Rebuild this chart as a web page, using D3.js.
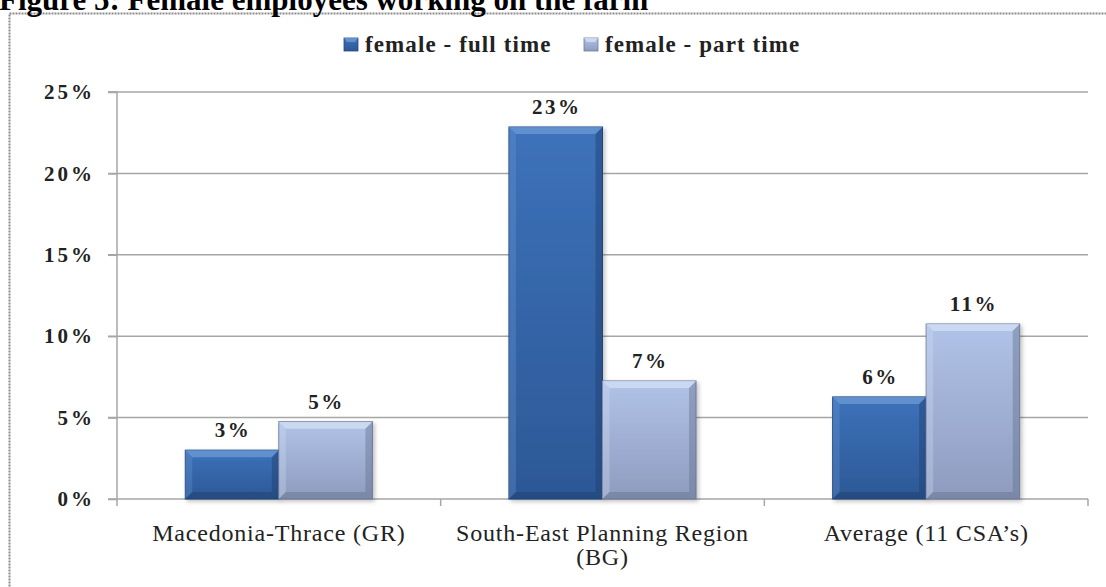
<!DOCTYPE html>
<html><head><meta charset="utf-8">
<script src="https://cdn.jsdelivr.net/npm/d3@7"></script>
<style>html,body{margin:0;padding:0;background:#fff;overflow:hidden}</style>
</head><body><svg id="c" width="1106" height="587"></svg>
<script>
// ---- data ----
const title = "Figure 5: Female employees working on the farm";
const categories = ["Macedonia-Thrace (GR)", "South-East Planning Region (BG)", "Average (11 CSA’s)"];
const categoryLines = [["Macedonia-Thrace (GR)"], ["South-East Planning Region", "(BG)"], ["Average (11 CSA’s)"]];
const seriesNames = ["female - full time", "female - part time"];
const fullTime = [3.0, 22.85, 6.27];
const partTime = [4.75, 7.25, 10.75];
const yTicks = [0, 5, 10, 15, 20, 25];

// ---- layout ----
const svg = d3.select("#c");
const FONT = "Liberation Serif, Times New Roman, serif";
const M = {left: 117, right: 1088, top: 92, bottom: 499};
const x = d3.scaleBand().domain(categories).range([M.left, M.right]).padding(0);
const xs = d3.scaleBand().domain(seriesNames).range([0, x.bandwidth()]).paddingInner(0).paddingOuter(0.73);
const y = d3.scaleLinear().domain([0, 25]).range([M.bottom, M.top]);

const defs = svg.append("defs");
const grads = [
  {id: "gFull", top: "#3d72ba", bot: "#2c5896", edge: "#24497e", light: "#6e9bd6", dark: "#1f3f6e"},
  {id: "gPart", top: "#b1c3e8", bot: "#8e9bbf", edge: "#6f7b9c", light: "#d3e0f6", dark: "#67738f"}
];
grads.forEach(g => {
  const lg = defs.append("linearGradient").attr("id", g.id).attr("x1", 0).attr("y1", 0).attr("x2", 0).attr("y2", 1);
  lg.append("stop").attr("offset", "0%").attr("stop-color", g.top);
  lg.append("stop").attr("offset", "100%").attr("stop-color", g.bot);
});
const f = defs.append("filter").attr("id", "sh").attr("x", "-10%").attr("y", "-10%").attr("width", "130%").attr("height", "130%");
f.append("feDropShadow").attr("dx", 2).attr("dy", 2).attr("stdDeviation", 2).attr("flood-color", "#000").attr("flood-opacity", 0.25);

// frame
svg.append("rect").attr("x", 9.5).attr("y", 13.5).attr("width", 1120).attr("height", 620)
  .attr("fill", "#fff").attr("stroke", "#8c8c8c").attr("stroke-width", 2).attr("stroke-dasharray", "2 1");

// title (cut off at the top edge, as in the reference)
svg.append("text").attr("x", -1).attr("y", 10).text(title)
  .attr("font-family", FONT).attr("font-weight", "bold")
  .attr("font-size", 31).attr("fill", "#000");

// gridlines
svg.append("g").selectAll("line").data(yTicks.filter(d => d > 0)).join("line")
  .attr("x1", M.left - 9).attr("x2", M.right).attr("y1", d => y(d)).attr("y2", d => y(d))
  .attr("stroke", "#a6a6a6").attr("stroke-width", 1.5);

// y axis
const yAxis = svg.append("g").attr("transform", `translate(${M.left},0)`)
  .call(d3.axisLeft(y).tickValues(yTicks).tickSize(9).tickPadding(13).tickFormat(d => d + "%"));
yAxis.select(".domain").attr("stroke", "#a6a6a6").attr("stroke-width", 1.5).attr("d", `M-9,${M.top}H0V${M.bottom}`);
yAxis.selectAll(".tick line").attr("stroke", "#a6a6a6").attr("stroke-width", 1.5);
yAxis.selectAll(".tick text").attr("font-family", FONT)
  .attr("font-weight", "bold").attr("font-size", 21).attr("letter-spacing", 3).attr("fill", "#222");

// x axis
const xAxis = svg.append("g").attr("transform", `translate(0,${M.bottom})`);
xAxis.append("line").attr("x1", M.left - 9).attr("x2", M.right).attr("y1", 0).attr("y2", 0)
  .attr("stroke", "#a6a6a6").attr("stroke-width", 1.5);
const bounds = categories.map(c => x(c)).concat([x(categories[categories.length - 1]) + x.bandwidth()]);
xAxis.selectAll("line.tk").data(bounds).join("line").attr("class", "tk")
  .attr("x1", d => d).attr("x2", d => d).attr("y1", 0).attr("y2", 7)
  .attr("stroke", "#a6a6a6").attr("stroke-width", 1.5);
categories.forEach((c, i) => {
  const t = xAxis.append("text").attr("x", x(c) + x.bandwidth() / 2).attr("y", 42)
    .attr("text-anchor", "middle").attr("font-family", FONT)
    .attr("font-size", 24).attr("letter-spacing", 0.8).attr("fill", "#222");
  categoryLines[i].forEach((ln, j) => {
    t.append("tspan").attr("x", x(c) + x.bandwidth() / 2).attr("dy", j === 0 ? 0 : 24).text(ln);
  });
});

// bars
const series = [
  {name: seriesNames[0], vals: fullTime, g: grads[0]},
  {name: seriesNames[1], vals: partTime, g: grads[1]}
];
const b = 7;
series.forEach(s => {
  const gg = svg.append("g");
  s.vals.forEach((v, i) => {
    const bx = x(categories[i]) + xs(s.name), bw = xs.bandwidth();
    const by = y(v), bh = y(0) - y(v);
    const bar = gg.append("g");
    bar.append("rect").attr("x", bx).attr("y", by).attr("width", bw).attr("height", bh)
      .attr("fill", `url(#${s.g.id})`).attr("stroke", s.g.edge).attr("stroke-width", 1).attr("filter", "url(#sh)");
    const bb = Math.min(b, bh / 2);
    bar.append("polygon").attr("points", [[bx, by], [bx + bw, by], [bx + bw - bb, by + bb], [bx + bb, by + bb]].join(" "))
      .attr("fill", s.g.light).attr("opacity", 0.75);
    bar.append("polygon").attr("points", [[bx, by], [bx + bb, by + bb], [bx + bb, by + bh - bb], [bx, by + bh]].join(" "))
      .attr("fill", s.g.light).attr("opacity", 0.3);
    bar.append("polygon").attr("points", [[bx + bw, by], [bx + bw - bb, by + bb], [bx + bw - bb, by + bh - bb], [bx + bw, by + bh]].join(" "))
      .attr("fill", s.g.dark).attr("opacity", 0.45);
    bar.append("polygon").attr("points", [[bx, by + bh], [bx + bb, by + bh - bb], [bx + bw - bb, by + bh - bb], [bx + bw, by + bh]].join(" "))
      .attr("fill", s.g.dark).attr("opacity", 0.5);
    svg.append("text").attr("x", bx + bw / 2 + 1).attr("y", by - 13).attr("text-anchor", "middle")
      .attr("font-family", FONT).attr("font-weight", "bold")
      .attr("font-size", 21).attr("letter-spacing", 2.5).attr("fill", "#222")
      .text(Math.round(v) + "%");
  });
});

// legend
const legendX = [344, 584];
series.forEach((s, i) => {
  const lg = svg.append("g").attr("transform", `translate(${legendX[i]},38)`);
  lg.append("rect").attr("x", 0).attr("y", 0).attr("width", 14).attr("height", 13)
    .attr("fill", `url(#${s.g.id})`).attr("stroke", s.g.edge).attr("stroke-width", 0.8);
  lg.append("polygon").attr("points", "0,0 14,0 11,4 3,4").attr("fill", s.g.light).attr("opacity", 0.8);
  lg.append("text").attr("x", 21).attr("y", 14).text(s.name)
    .attr("font-family", FONT).attr("font-weight", "bold")
    .attr("font-size", 23).attr("letter-spacing", 1.1).attr("fill", "#222");
});
</script>
</body></html>
